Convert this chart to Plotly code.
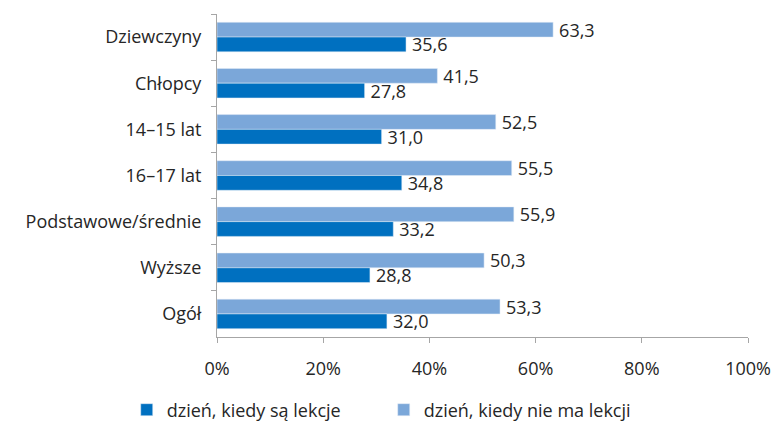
import plotly.graph_objects as go

categories = ["Dziewczyny", "Chłopcy", "14–15 lat", "16–17 lat", "Podstawowe/średnie", "Wyższe", "Ogół"]
lessons = [35.6, 27.8, 31.0, 34.8, 33.2, 28.8, 32.0]
no_lessons = [63.3, 41.5, 52.5, 55.5, 55.9, 50.3, 53.3]
series_names = ["dzień, kiedy są lekcje", "dzień, kiedy nie ma lekcji"]
x_ticks = [0, 20, 40, 60, 80, 100]
x_tick_labels = ["0%", "20%", "40%", "60%", "80%", "100%"]

FONT = "Open Sans"
TXT = "#262626"
FS = 18

def fmt(v):
    return "\u2009" + f"{v:.1f}".replace(".", ",")

fig = go.Figure()
fig.add_trace(go.Bar(
    y=categories, x=no_lessons, orientation="h", name=series_names[1],
    marker_color="#7BA7D9", text=[fmt(v) for v in no_lessons],
    textposition="outside", cliponaxis=False, constraintext="none",
    textfont=dict(family=FONT, size=FS, color=TXT),
))
fig.add_trace(go.Bar(
    y=categories, x=lessons, orientation="h", name=series_names[0],
    marker_color="#0070C0", text=[fmt(v) for v in lessons],
    textposition="outside", cliponaxis=False, constraintext="none",
    textfont=dict(family=FONT, size=FS, color=TXT),
))

fig.update_layout(
    width=781, height=422,
    margin=dict(l=217, r=33, t=14, b=85, autoexpand=False),
    barmode="group", bargap=0.36, bargroupgap=0,
    plot_bgcolor="white", paper_bgcolor="white",
    font=dict(family=FONT, size=FS, color=TXT),
    showlegend=True,
    legend=dict(orientation="h", x=-0.17, xanchor="left", y=-0.226, yanchor="middle",
                traceorder="reversed", font=dict(family=FONT, size=FS, color=TXT),
                entrywidth=212, entrywidthmode="pixels", itemwidth=30),
    xaxis=dict(range=[0, 100], tickvals=x_ticks, ticktext=x_tick_labels, showgrid=False,
               zeroline=False, showline=True, linecolor="#A6A6A6", ticks="outside",
               tickcolor="#A6A6A6", ticklen=5, automargin=False, ticklabelstandoff=10,
               tickfont=dict(family=FONT, size=FS, color=TXT)),
    yaxis=dict(autorange="reversed", showgrid=False, showline=True, linecolor="#A6A6A6",
               ticks="outside", tickson="boundaries", tickcolor="#A6A6A6", ticklen=5,
               automargin=False, ticklabelstandoff=11,
               tickfont=dict(family=FONT, size=FS, color=TXT)),
)
fig.write_html("out.html", config={"displayModeBar": False},
               post_script="document.body.style.margin='0';document.body.style.overflow='hidden';")
